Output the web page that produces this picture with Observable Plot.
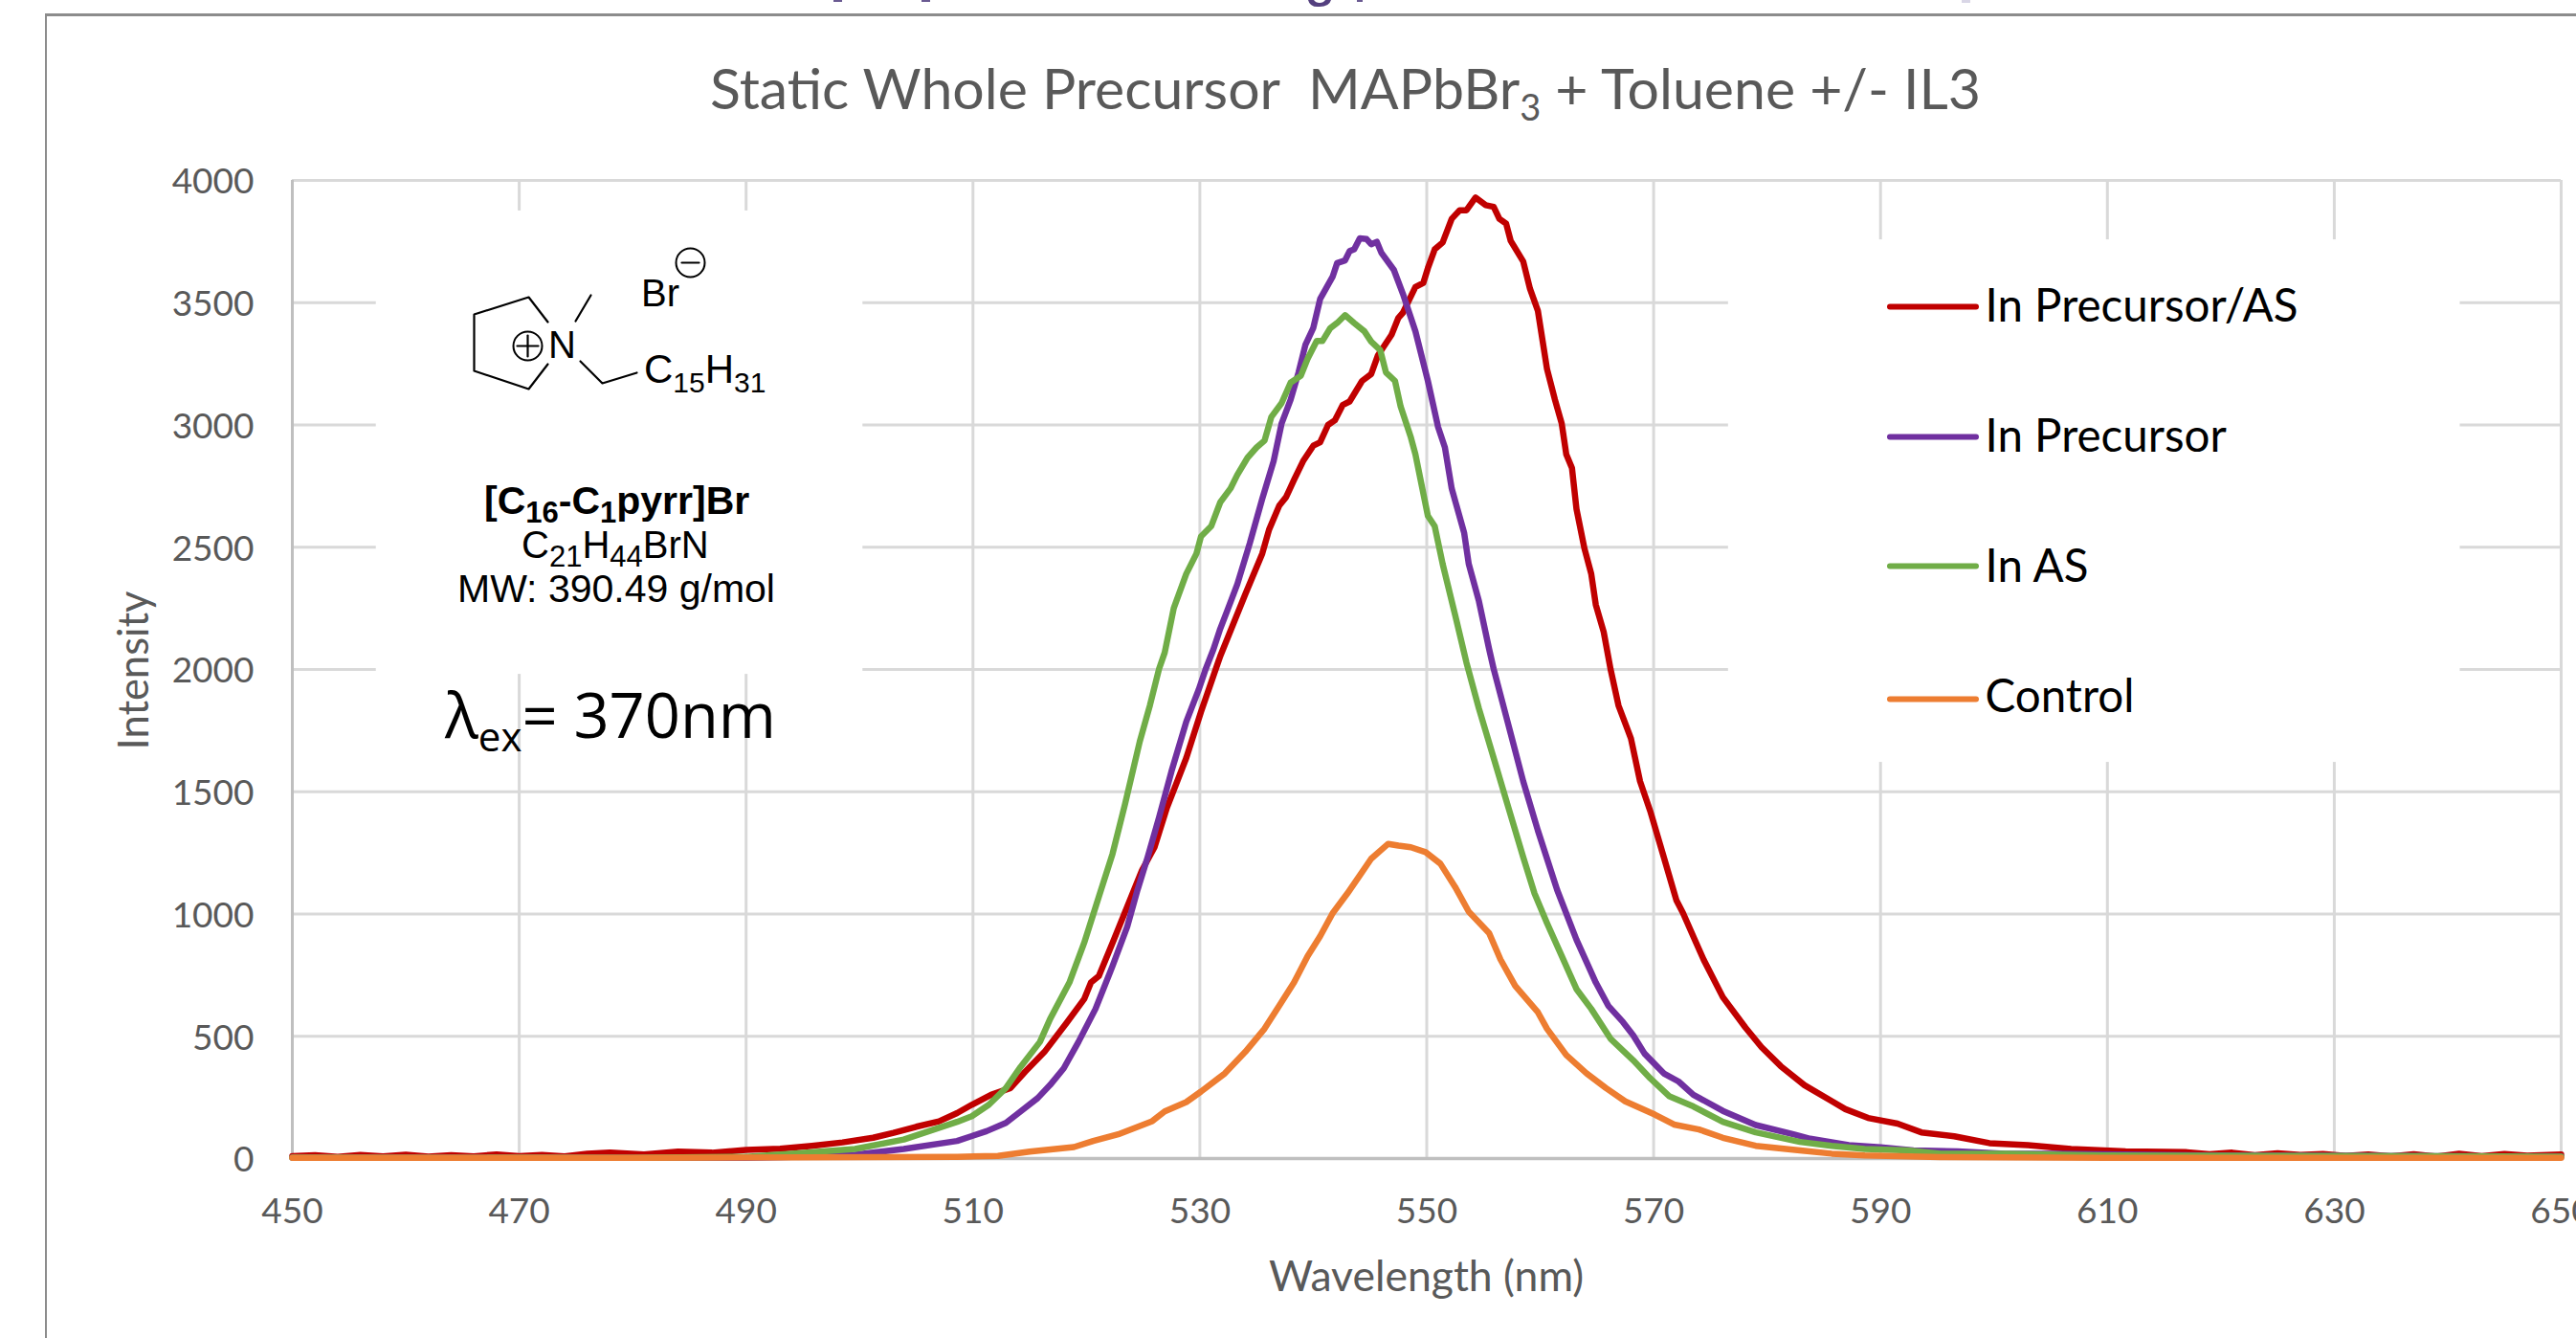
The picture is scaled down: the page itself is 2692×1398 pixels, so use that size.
<!DOCTYPE html>
<html><head><meta charset="utf-8">
<script src="https://cdn.jsdelivr.net/npm/d3@7"></script>
<script src="https://cdn.jsdelivr.net/npm/@observablehq/plot@0.6"></script>
<style>
html,body{margin:0;padding:0;background:#fff;width:2692px;height:1398px;overflow:hidden}
#chart{position:absolute;left:0;top:0;width:2692px;height:1398px;overflow:hidden}
#chart svg{max-width:none;display:block}
#frame{position:absolute;left:47px;top:14px;width:2700px;height:1500px;border-left:2px solid #8c8c8c;border-top:3px solid #8c8c8c;pointer-events:none}
#notes{position:absolute;left:0;top:0;pointer-events:none}
</style></head><body>
<div id="chart"></div><div id="frame"></div>
<svg id="notes" width="2692" height="1398" xmlns="http://www.w3.org/2000/svg">
  <g fill="#6a5a92">
    <rect x="871" y="0" width="9" height="2"/><rect x="963" y="0" width="9" height="2"/>
    <path d="M1367 0 Q1369 8 1379 7 Q1389 7 1391 0 L1385 0 Q1383 3 1379 3 Q1375 3 1373 0Z" fill="#54407f"/>
    <rect x="1418" y="0" width="6" height="2"/>
    <rect x="2050" y="0" width="9" height="3" fill="#d9d6e6"/>
  </g>
  <g font-family="Lato" font-weight="400" fill="#595959" font-size="59">
    <text x="742" y="114">Static Whole Precursor&#160; MAPbBr<tspan font-size="38" dy="12">3</tspan><tspan dy="-12"> + Toluene +/- IL3</tspan></text>
  </g>
  <g font-family="Liberation Sans" fill="#000">
    <text x="670" y="320" font-size="40">Br</text>
    <text x="573" y="374" font-size="40">N</text>
    <text x="673" y="400" font-size="42">C<tspan font-size="30" dy="10">15</tspan><tspan dy="-10">H</tspan><tspan font-size="30" dy="10">31</tspan></text>
    <text x="506" y="537" font-size="41" font-weight="700">[C<tspan font-size="31" dy="9">16</tspan><tspan dy="-9">-C</tspan><tspan font-size="31" dy="9">1</tspan><tspan dy="-9">pyrr]Br</tspan></text>
    <text x="545" y="583" font-size="40">C<tspan font-size="31" dy="9">21</tspan><tspan dy="-9">H</tspan><tspan font-size="31" dy="9">44</tspan><tspan dy="-9">BrN</tspan></text>
    <text x="478" y="629" font-size="41">MW: 390.49 g/mol</text>
  </g>
  <text x="465" y="771" font-family="Open Sans" font-size="65" fill="#000">λ<tspan font-size="42" dy="14">ex</tspan><tspan dy="-14">= 370nm</tspan></text>
</svg>
<script>
// Emission spectra: wavelength (nm) and intensity (a.u.)
const redWl = [450,452,454,456,458,460,462,464,466,468,470,472,474,476,478,481,484,487,490,493,495.8,498.5,501.2,503,505,507,508.6,509.9,511.6,513.3,514.6,516.3,518.3,519.8,520.4,521.1,522.3,523.6,524.9,526,527.1,528.8,530.1,531.8,532.9,534,535.5,536.1,537,537.6,538.3,539.1,540,540.6,541.3,541.9,542.6,543.2,544.3,545.1,545.7,546.9,547.5,547.9,549,549.7,550.1,550.7,551.4,552.2,552.9,553.5,554.3,555.2,555.9,556.4,557,557.4,558.5,559.1,559.8,560.6,561.3,561.9,562.3,562.8,563.2,563.9,564.5,564.9,565.6,566.2,566.9,568,568.8,569.7,570.9,572,572.6,573.5,574.4,576.1,578.1,579.5,581.2,583.3,585.7,586.9,588.9,591.5,593.6,596.5,599.6,603,606.8,611.6,616.9,619,621,623,625,627,629,631,633,635,637,639,641,643,645,647,650];
const redI = [10,14,7,15,9,16,8,14,9,17,10,15,9,20,24,17,28,24,35,40,52,66,85,105,130,152,186,220,261,288,355,436,558,652,720,747,882,1030,1179,1273,1435,1638,1827,2055,2181,2307,2474,2572,2670,2705,2775,2852,2915,2929,3000,3019,3082,3096,3180,3208,3285,3369,3438,3459,3564,3581,3641,3718,3746,3843,3878,3878,3930,3899,3892,3843,3823,3753,3669,3557,3466,3229,3103,3005,2880,2824,2656,2495,2391,2265,2153,2002,1853,1718,1543,1421,1232,1057,1003,908,814,660,535,456,378,300,235,202,166,143,107,91,63,55,39,29,26,18,24,14,22,15,19,11,17,9,18,8,20,10,19,12,17,9,15];

const purpleWl = [450,480,490,494,499.6,503.9,508.6,509.9,511.2,512.9,514.2,515.7,516.8,518,519.3,520.8,522.3,523.6,524.5,525.4,526.4,527.5,528.8,529.9,530.5,531.2,531.8,532.5,533.3,534.4,535.5,536.5,537.2,538,538.7,539.3,540,540.6,541.7,542.1,542.8,543.2,543.6,544.1,544.7,545.1,545.6,546,547.1,547.9,549,550.1,551,551.6,552.2,553.3,553.7,554.6,555.5,555.9,557.2,558.5,559.8,561.5,563.2,564.9,566,567.3,568.2,569.2,570.9,572.2,573.5,576.1,579,582.4,583.8,587.2,590,592.9,596.8,601,605.9,619,650];
const purpleI = [4,3,3,7,16,39,72,92,112,146,193,247,301,369,477,612,787,949,1098,1233,1395,1584,1786,1918,2000,2083,2167,2251,2349,2516,2698,2852,3005,3103,3215,3327,3397,3515,3606,3662,3673,3711,3718,3763,3760,3739,3749,3704,3634,3536,3383,3180,2991,2908,2740,2558,2432,2279,2083,2002,1773,1543,1341,1098,895,720,625,558,504,429,348,315,261,195,137,98,81,55,46,33,29,20,20,13,8];

const greenWl = [450,480,490,494,499.6,503.9,508.6,509.9,511.4,512.9,514.2,515.9,516.8,518.5,519.8,521.1,522.3,523.4,524.7,525.6,526.4,526.9,527.7,528.8,529.7,530.1,531,531.8,532.7,533.3,534.2,535,535.7,536.3,537.2,538,538.9,539.5,540.3,540.8,541.5,542.1,542.8,543.6,544.5,545.1,545.9,546.4,547.2,547.7,548.6,549,550.1,550.7,551.4,552.5,553.5,554.6,555.9,557.2,558.5,559.5,560.6,561.9,563.2,564.5,566.2,568.2,569.7,571.4,573.5,576.1,579,582.9,585.7,588.6,592.4,595.3,601,609.7,650];
const greenI = [4,3,7,20,39,78,150,173,220,288,375,477,571,720,882,1071,1246,1449,1705,1854,2002,2069,2251,2391,2474,2544,2586,2684,2740,2796,2866,2908,2936,3033,3089,3173,3201,3271,3343,3343,3396,3417,3449,3417,3383,3341,3306,3215,3180,3075,2949,2880,2628,2586,2432,2223,2028,1840,1638,1435,1233,1084,963,828,693,612,490,402,328,254,213,150,107,68,52,39,33,20,20,13,8];

const orangeWl = [450,480,508.6,512.2,515,518.9,520.6,522.8,525.8,526.9,528.8,530.1,532.2,534,535.7,537,538.3,539.5,540.6,541.7,543,544.1,545.1,546.6,547.5,548.6,549.9,551.2,552.5,553.7,555.5,556.5,557.8,559.8,560.6,562.3,564.1,565.8,567.5,570.1,571.8,574,576.1,579,582.9,585.7,588.6,595.3,610,650];
const orangeI = [3,3,7,11,28,47,72,99,153,193,231,274,348,436,531,625,720,828,909,1003,1084,1158,1226,1287,1280,1273,1253,1206,1111,1010,922,814,706,598,531,423,348,288,234,180,139,119,85,52,33,20,13,6,3,3];

const seriesNames = ["In Precursor/AS","In Precursor","In AS","Control"];
const seriesColors = ["#C00000","#7030A0","#70AD47","#ED7D31"];
const seriesWl = [redWl,purpleWl,greenWl,orangeWl];
const seriesI = [redI,purpleI,greenI,orangeI];

const xTicks = [450,470,490,510,530,550,570,590,610,630,650];
const yTicks = [0,500,1000,1500,2000,2500,3000,3500,4000];

// White boxes of the pasted insets that hide the grid (wavelength, intensity)
const insetX1 = [457.4,576.6];
const insetX2 = [500.3,641.1];
const insetY1 = [1980,1620];
const insetY2 = [3875,3757];

// Annotation positions are placed on the page, then converted by the scales
const X = d3.scaleLinear([305,2676],[450,650]);
const Y = d3.scaleLinear([1210,188],[0,4000]);

const bonds = [
  [[572,336],[552,310],[495,328],[495,387],[552,406],[572,380]],
  [[601,335],[617,308]],
  [[606,377],[629,400],[665,389]],
  [[540,361],[562,361]],[[551,350],[551,372]],
  [[712,274],[730,274]]
];
const chargeCircles = [[551,361],[721,274]];
const legendRows = [320,456,591,730];
const legendTextRows = [320,456,592,728];

const curve = seriesNames.map((s,i)=>seriesWl[i].map((w,j)=>({w,v:seriesI[i][j],s})));

const plot = Plot.plot({
  width:2692,height:1398,margin:0,
  style:{background:"transparent",fontFamily:"Lato",overflow:"hidden"},
  x:{domain:[450,650],range:[305,2676]},
  y:{domain:[0,4000],range:[1210,188]},
  marks:[
    Plot.ruleY(yTicks.filter(d=>d>0),{stroke:"#D9D9D9",strokeWidth:3,x1:450,x2:650}),
    Plot.ruleX(xTicks.slice(1),{stroke:"#D9D9D9",strokeWidth:3,y1:0,y2:4000}),
    Plot.ruleX([450],{stroke:"#BFBFBF",strokeWidth:3,y1:0,y2:4000}),
    Plot.ruleY([0],{stroke:"#BFBFBF",strokeWidth:3.5,x1:450,x2:650}),
    Plot.rect(insetX1.map((d,i)=>i),{x1:i=>insetX1[i],x2:i=>insetX2[i],y1:i=>insetY1[i],y2:i=>insetY2[i],fill:"#fff"}),
    // inset chemical structure
    ...bonds.map(b=>Plot.line(b,{x:d=>X(d[0]),y:d=>Y(d[1]),stroke:"#000",strokeWidth:2.2,curve:"linear"})),
    Plot.dot(chargeCircles,{x:d=>X(d[0]),y:d=>Y(d[1]),r:15,stroke:"#000",strokeWidth:2,fill:"none"}),
    // curves in Excel's series order
    ...curve.map((c,i)=>Plot.line(c,{x:"w",y:"v",stroke:seriesColors[i],strokeWidth:6.5,curve:"linear",strokeLinejoin:"round"})),
    Plot.axisX({ticks:xTicks,tickSize:0,tickPadding:0,label:null,y:0,dy:41,color:"#595959",fontSize:37,fontFamily:"Lato",tickFormat:d=>String(d),anchor:"bottom",textStroke:"none"}),
    Plot.axisY({ticks:yTicks,tickSize:0,tickPadding:0,label:null,x:450,dx:-40,dy:2,color:"#595959",fontSize:37,fontFamily:"Lato",tickFormat:d=>String(d),anchor:"left"}),
    Plot.text(["Wavelength (nm)"],{x:X(1490),y:Y(1334),fill:"#595959",fontSize:44.5,fontFamily:"Lato"}),
    Plot.text(["Intensity"],{x:X(141),y:Y(700),fill:"#595959",fontSize:43.5,fontFamily:"Lato",rotate:-90}),
    // legend
    Plot.ruleY(legendRows.map((r,i)=>i),{y:i=>Y(legendRows[i]),x1:X(1975),x2:X(2065),stroke:i=>seriesColors[i],strokeWidth:6,strokeLinecap:"round"}),
    Plot.text(seriesNames,{x:X(2074),y:(d,i)=>Y(legendTextRows[i]),text:d=>d,textAnchor:"start",fill:"#000",fontSize:47.5,fontFamily:"Lato"})
  ]
});
document.getElementById("chart").appendChild(plot);
</script>
</body></html>
